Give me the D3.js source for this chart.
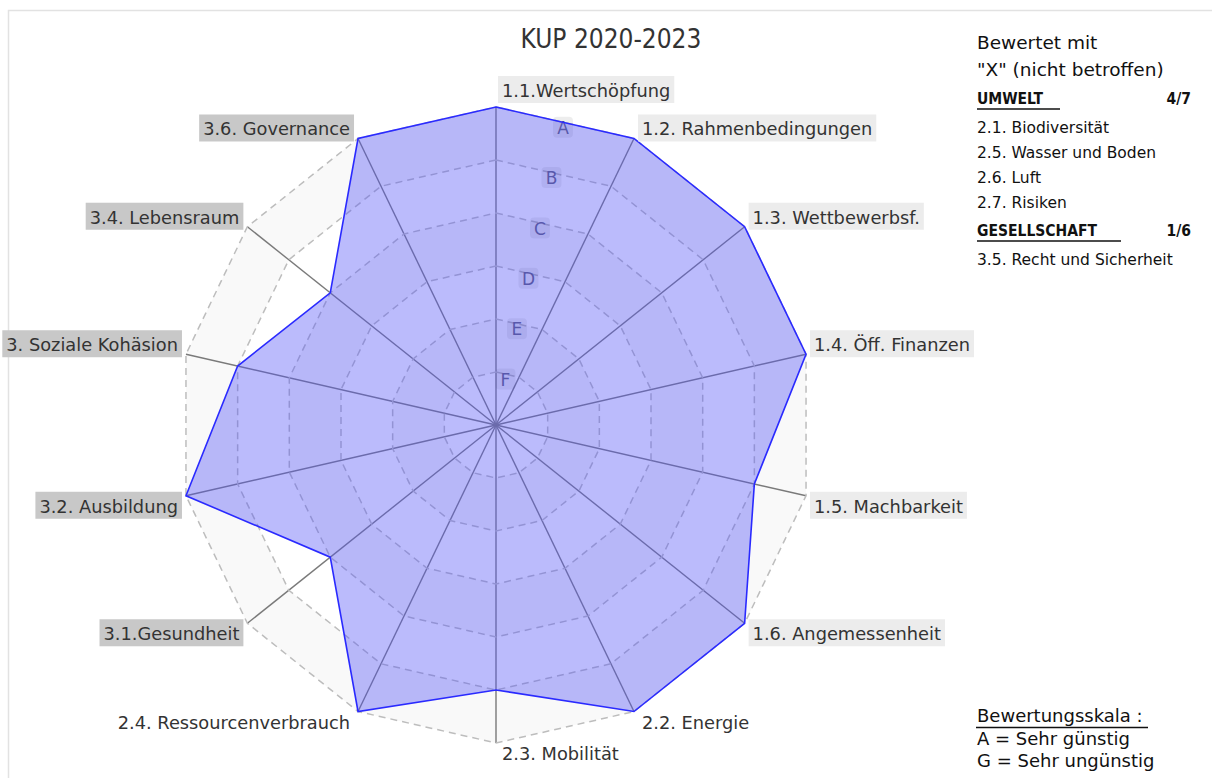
<!DOCTYPE html>
<html>
<head>
<meta charset="utf-8">
<script src="https://cdn.jsdelivr.net/npm/d3@7/dist/d3.min.js"></script>
<style>
  html, body { margin: 0; padding: 0; background: #fff; }
  svg { display: block; }
</style>
</head>
<body>
<svg id="chart" width="1212" height="778"></svg>
<script>
// Criteria shown around the radar, clockwise from the top
const criteria = [
  "1.1.Wertschöpfung", "1.2. Rahmenbedingungen", "1.3. Wettbewerbsf.",
  "1.4. Öff. Finanzen", "1.5. Machbarkeit", "1.6. Angemessenheit",
  "2.2. Energie", "2.3. Mobilität", "2.4. Ressourcenverbrauch",
  "3.1.Gesundheit", "3.2. Ausbildung", "3. Soziale Kohäsion",
  "3.4. Lebensraum", "3.6. Governance"
];
// Rating of each criterion (A = best, G = worst)
const ratings = ["A", "A", "A", "A", "B", "A", "A", "B", "A", "C", "A", "B", "C", "A"];
// Rating scale from the centre outwards
const grades = ["G", "F", "E", "D", "C", "B", "A"];
const ringGrades = ["F", "E", "D", "C", "B", "A"];

// Side panel: criteria rated "X" (not affected)
const notAffectedUmwelt = ["2.1. Biodiversität", "2.5. Wasser und Boden", "2.6. Luft", "2.7. Risiken"];
const notAffectedGesellschaft = ["3.5. Recht und Sicherheit"];
const countUmwelt = "4/7";
const countGesellschaft = "1/6";

const title = "KUP 2020-2023";

const svg = d3.select("#chart");
const cx = 496, cy = 425, R = 318;
const FONT = "'DejaVu Sans', Verdana, sans-serif";
const FONT_C = "'DejaVu Sans Condensed', 'DejaVu Sans', sans-serif";

const n = criteria.length;
const angle = d3.scaleLinear().domain([0, n]).range([0, 2 * Math.PI]);
const gradeIndex = d3.scaleOrdinal().domain(grades).range(d3.range(grades.length));
const radius = d3.scaleLinear().domain([0, grades.length - 1]).range([0, R]);

const pt = (i, r) => [cx + r * Math.sin(angle(i)), cy - r * Math.cos(angle(i))];
const ringPath = r => "M" + d3.range(n).map(i => pt(i, r).join(",")).join("L") + "Z";

// frame
svg.append("rect").attr("x", 8.5).attr("y", 10.5).attr("width", 1230).attr("height", 800)
  .attr("fill", "none").attr("stroke", "#e2e2e2").attr("stroke-width", 1.5);

// alternating bands
const bandG = svg.append("g");
[[5, 6], [3, 4], [1, 2]].forEach(([a, b]) => {
  bandG.append("path")
    .attr("d", ringPath(radius(b)) + ringPath(radius(a)))
    .attr("fill", "#f9f9f9").attr("fill-rule", "evenodd");
});

// axis spokes
svg.append("g").selectAll("line").data(criteria).join("line")
  .attr("x1", cx).attr("y1", cy)
  .attr("x2", (d, i) => pt(i, R)[0]).attr("y2", (d, i) => pt(i, R)[1])
  .attr("stroke", "#7a7a7a").attr("stroke-width", 1.4);

// dashed rings
svg.append("g").selectAll("path").data(ringGrades).join("path")
  .attr("d", g => ringPath(radius(gradeIndex(g))))
  .attr("fill", "none").attr("stroke", "#bdbdbd").attr("stroke-width", 1.5)
  .attr("stroke-dasharray", "7,5");

// grade labels along the first sector
const half = angle(0.5);
const gl = svg.append("g").selectAll("g").data(ringGrades).join("g")
  .attr("transform", g => {
    const r = radius(gradeIndex(g)) * Math.cos(half);
    return `translate(${cx + r * Math.sin(half) - 2},${cy - r * Math.cos(half) + 5})`;
  });
gl.append("rect").attr("x", -10).attr("y", -11).attr("width", 20).attr("height", 21).attr("rx", 4)
  .attr("fill", "#000").attr("fill-opacity", 0.07);
gl.append("text").attr("text-anchor", "middle").attr("dy", "0.36em")
  .attr("font-family", FONT).attr("font-size", 17).attr("fill", "#5a5a78")
  .text(g => g);

// rating polygon
const values = ratings.map(g => radius(gradeIndex(g)));
svg.append("path")
  .attr("d", "M" + values.map((r, i) => pt(i, r).join(",")).join("L") + "Z")
  .attr("fill", "rgb(85,85,248)").attr("fill-opacity", 0.4)
  .attr("stroke", "#2a2aff").attr("stroke-width", 1.6).attr("stroke-linejoin", "miter");

// axis labels
const boxFill = { "1": "#ececec", "2": null, "3": "#c8c8c8" };
const lab = svg.append("g");
criteria.forEach((name, i) => {
  const [tx, ty] = pt(i, R);
  let anchor, x;
  if (tx > cx + 1) { anchor = "start"; x = tx + 8; }
  else if (tx < cx - 1) { anchor = "end"; x = tx - 8; }
  else { anchor = "start"; x = tx + 6; }
  let y;
  if (i === 0) y = ty - 10;
  else if (ty < cy) y = ty - 3;
  else y = ty + 17;
  const g = lab.append("g");
  const t = g.append("text").attr("x", x).attr("y", y).attr("text-anchor", anchor)
    .attr("font-family", FONT).attr("font-size", 17.8).attr("fill", "#333").text(name);
  const fill = boxFill[name[0]];
  if (fill) {
    const bb = t.node().getBBox();
    g.insert("rect", "text").attr("x", bb.x - 4).attr("y", y - 21)
      .attr("width", bb.width + 8).attr("height", 27).attr("fill", fill);
  }
});

// title
svg.append("text").attr("x", 611).attr("y", 48).attr("text-anchor", "middle")
  .attr("font-family", FONT_C).attr("font-size", 26).attr("fill", "#333").text(title);

// side panel
const side = svg.append("g").attr("font-family", FONT).attr("fill", "#111");
side.append("text").attr("x", 977).attr("y", 49).attr("font-size", 18.5).text("Bewertet mit");
side.append("text").attr("x", 977).attr("y", 76).attr("font-size", 18.5).text('"X" (nicht betroffen)');

function heading(label, count, y, lineEnd) {
  side.append("text").attr("x", 977).attr("y", y).attr("font-size", 15.5).attr("font-weight", "bold")
    .attr("font-family", FONT_C).text(label);
  side.append("text").attr("x", 1191).attr("y", y).attr("font-size", 15.5).attr("font-weight", "bold")
    .attr("font-family", FONT_C).attr("text-anchor", "end").text(count);
  side.append("line").attr("x1", 977).attr("x2", lineEnd).attr("y1", y + 5).attr("y2", y + 5)
    .attr("stroke", "#111").attr("stroke-width", 1.5);
}
heading("UMWELT", countUmwelt, 104, 1060);
side.selectAll("text.u").data(notAffectedUmwelt).join("text").attr("class", "u")
  .attr("x", 977).attr("y", (d, i) => 133 + i * 25).attr("font-size", 15.5).text(d => d);
heading("GESELLSCHAFT", countGesellschaft, 236, 1121);
side.selectAll("text.g").data(notAffectedGesellschaft).join("text").attr("class", "g")
  .attr("x", 977).attr("y", (d, i) => 265 + i * 25).attr("font-size", 15.5).text(d => d);

// rating scale legend
side.append("text").attr("x", 977).attr("y", 722).attr("font-size", 18).text("Bewertungsskala :");
side.append("line").attr("x1", 976).attr("x2", 1148).attr("y1", 727.5).attr("y2", 727.5)
  .attr("stroke", "#111").attr("stroke-width", 1.3);
side.append("text").attr("x", 977).attr("y", 745).attr("font-size", 18).text("A = Sehr günstig");
side.append("text").attr("x", 977).attr("y", 767).attr("font-size", 18).text("G = Sehr ungünstig");
</script>
</body>
</html>
